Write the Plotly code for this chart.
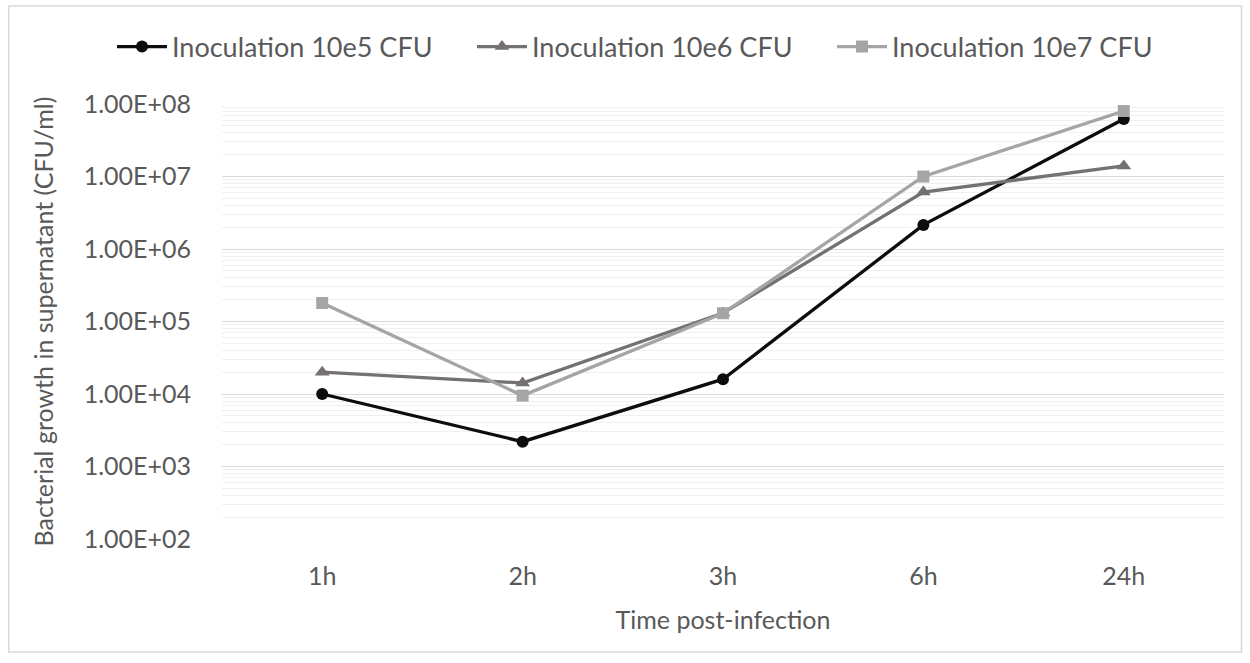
import plotly.graph_objects as go

# Sampling times and bacterial counts (CFU/ml) for each inoculum
times = ["1h", "2h", "3h", "6h", "24h"]
inoc_10e5 = [1.0e4, 2.2e3, 1.6e4, 2.15e6, 6.2e7]
inoc_10e6 = [2.0e4, 1.42e4, 1.31e5, 6.1e6, 1.4e7]
inoc_10e7 = [1.8e5, 9.5e3, 1.3e5, 1.0e7, 8.0e7]

y_tick_vals = [1e2, 1e3, 1e4, 1e5, 1e6, 1e7, 1e8]
y_tick_text = ["1.00E+02", "1.00E+03", "1.00E+04", "1.00E+05",
               "1.00E+06", "1.00E+07", "1.00E+08"]

FONT = "Lato"
TEXT_COLOR = "#595959"

series = [
    ("Inoculation 10e5 CFU", inoc_10e5, "#0d0d0d", "circle", 12),
    ("Inoculation 10e6 CFU", inoc_10e6, "#767171", "triangle-up", 13),
    ("Inoculation 10e7 CFU", inoc_10e7, "#a5a5a5", "square", 12),
]

W, H = 1250, 663
L, R, T, B = 221.5, 25.5, 104, 124

# one legend box per series so the entries sit in a single evenly spaced row
legend_ids = ["legend", "legend2", "legend3"]
legend_left_px = [112, 472, 832]

fig = go.Figure()
for (name, vals, color, symbol, msize), lid in zip(series, legend_ids):
    fig.add_trace(go.Scatter(
        x=times, y=vals, name=name, mode="lines+markers",
        line=dict(color=color, width=3.3),
        marker=dict(symbol=symbol, size=msize, color=color),
        legend=lid,
    ))

legend_layout = {}
for lid, px in zip(legend_ids, legend_left_px):
    legend_layout[lid] = dict(
        orientation="h", x=px / W, xanchor="left", xref="container",
        y=1 - 47 / H, yref="container", yanchor="middle",
        font=dict(size=27, color=TEXT_COLOR), itemwidth=50,
        bgcolor="rgba(0,0,0,0)",
    )

fig.update_layout(
    width=W, height=H,
    margin=dict(l=L, r=R, t=T, b=B, autoexpand=False),
    paper_bgcolor="white", plot_bgcolor="white",
    font=dict(family=FONT, color=TEXT_COLOR, size=25),
    showlegend=True,
    xaxis=dict(
        type="category", range=[-0.5, 4.5], showgrid=False, zeroline=False,
        showline=False, ticks="", ticklabelstandoff=20,
        tickfont=dict(size=25, color=TEXT_COLOR),
        title=dict(text="Time post-infection", standoff=22,
                   font=dict(size=25, color=TEXT_COLOR)),
    ),
    yaxis=dict(
        type="log", range=[2, 8],
        tickvals=y_tick_vals, ticktext=y_tick_text,
        showgrid=True, gridcolor="#d9d9d9", gridwidth=1.3,
        zeroline=False, showline=False, ticks="",
        ticklabelstandoff=30,
        tickfont=dict(size=25, color=TEXT_COLOR),
        minor=dict(dtick="D1", showgrid=True, gridcolor="#f0f0f0",
                   gridwidth=1, ticks=""),
        title=dict(text="Bacterial growth in supernatant (CFU/ml)", standoff=22,
                   font=dict(size=25, color=TEXT_COLOR)),
    ),
    shapes=[
        # outer chart border
        dict(type="rect", xref="paper", yref="paper",
             x0=(8 - L) / (W - L - R), x1=(1242 - L) / (W - L - R),
             y0=-(652 - (H - B)) / (H - T - B), y1=1 + (T - 6) / (H - T - B),
             line=dict(color="#d9d9d9", width=1.5), fillcolor="rgba(0,0,0,0)",
             layer="below"),
    ],
    **legend_layout,
)

fig.write_html("out.html")
